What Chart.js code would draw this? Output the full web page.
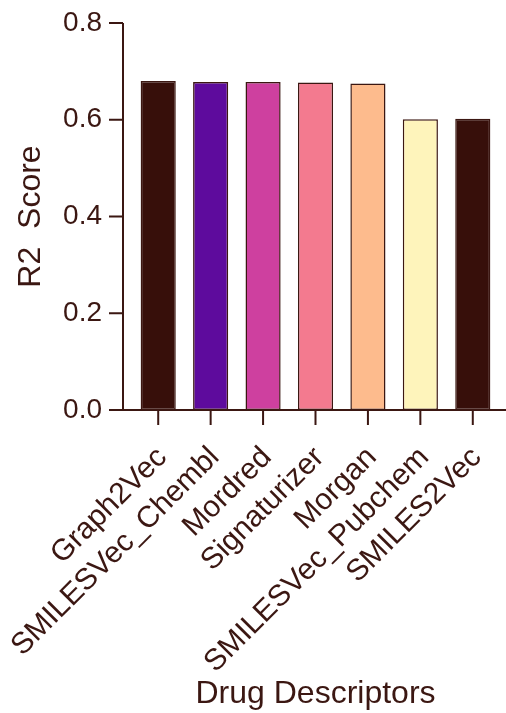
<!DOCTYPE html>
<html>
<head>
<meta charset="utf-8">
<script src="https://cdn.jsdelivr.net/npm/chart.js@4.4.0/dist/chart.umd.min.js"></script>
<style>
    html, body { margin: 0; padding: 0; background: #ffffff; }
    #wrap { width: 506px; height: 713px; position: relative; }
</style>
</head>
<body>
<div id="wrap"><canvas id="r2Chart"></canvas></div>
<script>
const descriptors = ['Graph2Vec', 'SMILESVec_Chembl', 'Mordred', 'Signaturizer', 'Morgan', 'SMILESVec_Pubchem', 'SMILES2Vec'];
const r2Scores = [0.680, 0.678, 0.678, 0.677, 0.675, 0.601, 0.602];
const barColors = ['#370f0a', '#5e0b9d', '#ce409f', '#f37a8f', '#fdbb8d', '#fef4bb', '#370f0a'];
const yTicks = [0, 0.2, 0.4, 0.6, 0.8];

const inkColor = '#3b1712';
const fontFamily = '"Liberation Sans", Arial, sans-serif';

// axis lines + tick marks drawn by hand so the y axis sits a bit left of the first bar
const axisPlugin = {
    id: 'axisLines',
    afterDatasetsDraw(chart) {
        const ctx = chart.ctx;
        const xScale = chart.scales.x;
        const yScale = chart.scales.y;
        const axisX = chart.chartArea.left - 9;
        const axisY = yScale.getPixelForValue(0);

        ctx.save();
        ctx.strokeStyle = inkColor;
        ctx.lineWidth = 2;
        ctx.beginPath();
        ctx.moveTo(axisX, yScale.getPixelForValue(yTicks[yTicks.length - 1]));
        ctx.lineTo(axisX, axisY);
        ctx.moveTo(axisX, axisY);
        ctx.lineTo(chart.width, axisY);
        yTicks.forEach(v => {
            const py = yScale.getPixelForValue(v);
            ctx.moveTo(axisX - 14, py);
            ctx.lineTo(axisX, py);
        });
        descriptors.forEach((d, i) => {
            const px = xScale.getPixelForValue(i);
            ctx.moveTo(px, axisY);
            ctx.lineTo(px, axisY + 15);
        });
        ctx.stroke();
        ctx.restore();
    }
};

const ctxBar = document.getElementById('r2Chart').getContext('2d');
new Chart(ctxBar, {
    type: 'bar',
    data: {
        labels: descriptors,
        datasets: [{
            data: r2Scores,
            backgroundColor: barColors,
            borderColor: inkColor,
            borderWidth: 1.5,
            borderSkipped: false,
            categoryPercentage: 1,
            barPercentage: 0.67
        }]
    },
    options: {
        responsive: true,
        maintainAspectRatio: false,
        animation: false,
        layout: {
            padding: { top: 23, right: 7, left: 0, bottom: 0 }
        },
        scales: {
            x: {
                offset: true,
                grid: { display: false },
                border: { display: false },
                ticks: {
                    color: inkColor,
                    autoSkip: false,
                    minRotation: 45,
                    maxRotation: 45,
                    padding: 22,
                    labelOffset: 4,
                    font: { family: fontFamily, size: 30 }
                },
                title: {
                    display: true,
                    text: 'Drug Descriptors',
                    color: inkColor,
                    padding: { top: 0, bottom: 0 },
                    font: { family: fontFamily, size: 32 }
                },
                afterFit: (scale) => {
                    scale.height = 303;
                    scale.paddingLeft = 0;
                    scale.paddingRight = 0;
                }
            },
            y: {
                min: 0,
                max: 0.8,
                grid: { display: false },
                border: { display: false },
                ticks: {
                    stepSize: 0.2,
                    color: inkColor,
                    padding: 22,
                    font: { family: fontFamily, size: 28 },
                    callback: (value) => value.toFixed(1)
                },
                title: {
                    display: true,
                    text: 'R2  Score',
                    color: inkColor,
                    padding: { top: 12, bottom: 0 },
                    font: { family: fontFamily, size: 32 }
                },
                afterFit: (scale) => {
                    scale.width = 132;
                    scale.paddingTop = 0;
                    scale.paddingBottom = 0;
                }
            }
        },
        plugins: {
            legend: { display: false },
            tooltip: { enabled: false }
        }
    },
    plugins: [axisPlugin]
});
</script>
</body>
</html>
